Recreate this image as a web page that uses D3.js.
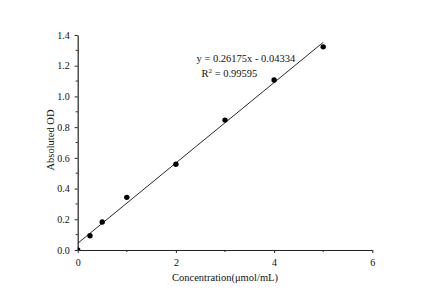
<!DOCTYPE html>
<html><head><meta charset="utf-8">
<script src="https://cdn.jsdelivr.net/npm/d3@7"></script>
<style>body{margin:0;background:#fff}svg{display:block}text{font-family:"Liberation Serif","Times New Roman",serif;fill:#111}</style>
</head><body>
<script>
const concentration = [0, 0.25, 0.5, 1, 2, 3, 4, 5];
const absorbance   = [0, 0.093, 0.182, 0.343, 0.558, 0.846, 1.107, 1.323];
const fitSlope = 0.26175;
const fitInterceptDrawn = 0.04334;
const fitRange = [0, 5];
const xTicks = [0, 2, 4, 6];
const yTicks = [0, 0.2, 0.4, 0.6, 0.8, 1.0, 1.2, 1.4];
const equationLines = ["y = 0.26175x - 0.04334", "R2 = 0.99595"];

const W = 433, H = 301;
const svg = d3.select("body").append("svg").attr("width", W).attr("height", H);
const x = d3.scaleLinear().domain([0, 6]).range([77.7, 372.3]);
const y = d3.scaleLinear().domain([0, 1.4]).range([250, 35]);

svg.append("defs").append("clipPath").attr("id","clip").append("rect")
  .attr("x", x(0)).attr("y", y(1.4)-10).attr("width", x(6)-x(0)+5).attr("height", y(0)-y(1.4)+10);

// minor ticks
const yMinor = d3.range(0.1, 1.4, 0.2);
const xMinor = [1, 3, 5];
const gx = svg.append("g").attr("transform", `translate(0,${y(0)})`)
  .call(d3.axisBottom(x).tickValues(xTicks).tickFormat(d3.format("d")).tickSize(3).tickSizeOuter(0));
gx.selectAll(".tick").filter(d => xMinor.includes(d)).remove();
gx.selectAll(null).data(xMinor).enter().append("line")
  .attr("x1", d => x(d)).attr("x2", d => x(d)).attr("y1", 0).attr("y2", 2).attr("stroke", "#222");
const gy = svg.append("g").attr("transform", `translate(${x(0)},0)`)
  .call(d3.axisLeft(y).tickValues(yTicks).tickFormat(d3.format(".1f")).tickSize(3).tickSizeOuter(0));
gy.selectAll(null).data(yMinor).enter().append("line")
  .attr("x1", 0).attr("x2", -2).attr("y1", d => y(d)).attr("y2", d => y(d)).attr("stroke", "#222");

[gx, gy].forEach(g => {
  g.select(".domain").attr("stroke", "#222").attr("stroke-width", 1.2);
  g.selectAll(".tick line").attr("stroke", "#222");
  g.selectAll(".tick text").attr("font-size", 10).attr("font-family", "Liberation Serif").attr("fill", "#111");
});
gx.selectAll(".tick text").attr("dy", "0.95em");
gy.selectAll(".tick text").attr("dx", "-0.2em");

// fit line
const plot = svg.append("g").attr("clip-path", "url(#clip)");
plot.append("line")
  .attr("x1", x(fitRange[0])).attr("y1", y(fitSlope*fitRange[0] + fitInterceptDrawn))
  .attr("x2", x(fitRange[1])).attr("y2", y(fitSlope*fitRange[1] + fitInterceptDrawn))
  .attr("stroke", "#111").attr("stroke-width", 0.9);

plot.selectAll("circle").data(concentration).enter().append("circle")
  .attr("cx", (d) => x(d)).attr("cy", (d, i) => y(absorbance[i]))
  .attr("r", 2.7).attr("fill", "#000");

// equation
svg.append("text").attr("x", 196.5).attr("y", 62).attr("font-size", 10.5).text(equationLines[0]);
const r2 = svg.append("text").attr("x", 201.5).attr("y", 77).attr("font-size", 10.5);
r2.append("tspan").text("R");
r2.append("tspan").attr("font-size", 7).attr("dy", -4).text("2");
r2.append("tspan").attr("dy", 4).text(" = 0.99595");

// axis titles
svg.append("text").attr("x", 225).attr("y", 281).attr("text-anchor", "middle")
  .attr("font-size", 10.5).text("Concentration(μmol/mL)");
svg.append("text").attr("transform", "translate(54,140) rotate(-90)").attr("text-anchor", "middle")
  .attr("font-size", 10.5).text("Absoluted OD");
</script>
</body></html>
